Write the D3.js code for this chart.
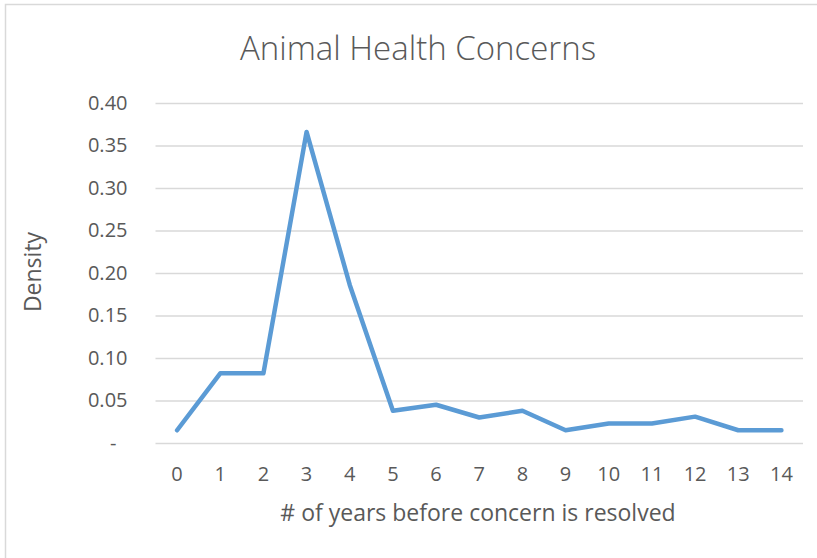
<!DOCTYPE html>
<html>
<head>
<meta charset="utf-8">
<script src="https://cdn.jsdelivr.net/npm/d3@7"></script>
<style>
    body { margin: 0; background: #fff; }
    #chart text { fill: #595959; font-family: "Open Sans", "Liberation Sans", sans-serif; }
</style>
</head>
<body>
<div id="chart"></div>
<script>
// data
const years = ['0', '1', '2', '3', '4', '5', '6', '7', '8', '9', '10', '11', '12', '13', '14'];
const density = [0.015, 0.082, 0.082, 0.366, 0.186, 0.038, 0.045, 0.030, 0.038, 0.015, 0.023, 0.023, 0.031, 0.015, 0.015];
const yTicks = [0, 0.05, 0.10, 0.15, 0.20, 0.25, 0.30, 0.35, 0.40];

class LineChart {
    outerWidth = 817;
    outerHeight = 558;
    marginObj = {
        top: 103, right: 14, bottom: 115, left: 155.5,
    };

    constructor(node) {
        this.container = d3.select(node);
        this.container.selectAll('*').remove();
    }

    getDimensions = () => {
        const {
            top, right, bottom, left,
        } = this.marginObj;
        return {
            width: this.outerWidth - left - right,
            height: this.outerHeight - top - bottom,
            top,
            left,
        };
    };

    render = () => {
        const {
            width, height, top, left,
        } = this.getDimensions();

        const svg = this.container.append('svg')
            .attr('width', this.outerWidth)
            .attr('height', this.outerHeight);

        // chart area border (runs off the right / bottom edge)
        svg.append('rect')
            .attr('x', 5.5)
            .attr('y', 4.5)
            .attr('width', this.outerWidth + 20)
            .attr('height', this.outerHeight + 20)
            .attr('fill', '#fff')
            .attr('stroke', '#d9d9d9')
            .attr('stroke-width', 1.5);

        svg.append('text')
            .attr('x', 418)
            .attr('y', 60)
            .attr('text-anchor', 'middle')
            .style('font-size', '33px')
            .style('font-weight', 300)
            .text('Animal Health Concerns');

        const g = svg.append('g')
            .attr('transform', `translate(${[left, top]})`);

        this.xScale = d3.scaleBand()
            .domain(years)
            .range([0, width]);
        this.yScale = d3.scaleLinear()
            .domain([0, 0.4])
            .range([height, 0]);

        // y axis: gridlines + labels
        const yAxis = d3.axisLeft(this.yScale)
            .tickValues(yTicks)
            .tickSize(-width)
            .tickPadding(28)
            .tickFormat((d) => (d === 0 ? '-' : d3.format('.2f')(d)));
        const yAxisG = g.append('g')
            .attr('class', 'axis y')
            .call(yAxis);
        yAxisG.select('.domain').remove();
        yAxisG.selectAll('line')
            .attr('stroke', '#d9d9d9')
            .attr('stroke-width', 1.5);
        yAxisG.selectAll('text')
            .style('font-size', '20px')
            .attr('dx', (d) => (d === 0 ? -11 : 0));

        // x axis labels only
        const xAxis = d3.axisBottom(this.xScale)
            .tickSize(0)
            .tickPadding(24);
        const xAxisG = g.append('g')
            .attr('class', 'axis x')
            .attr('transform', `translate(0,${height})`)
            .call(xAxis);
        xAxisG.select('.domain').remove();
        xAxisG.selectAll('text')
            .style('font-size', '20px');

        const line = d3.line()
            .x((d, i) => this.xScale(years[i]) + this.xScale.bandwidth() / 2)
            .y((d) => this.yScale(d));

        g.append('path')
            .datum(density)
            .attr('fill', 'none')
            .attr('stroke', '#5b9bd5')
            .attr('stroke-width', 4.5)
            .attr('stroke-linejoin', 'round')
            .attr('stroke-linecap', 'round')
            .attr('d', line);

        svg.append('text')
            .attr('x', 478)
            .attr('y', 521)
            .attr('text-anchor', 'middle')
            .style('font-size', '23px')
            .text('# of years before concern is resolved');

        svg.append('text')
            .attr('transform', 'translate(41,272) rotate(-90)')
            .attr('text-anchor', 'middle')
            .style('font-size', '23px')
            .text('Density');

        return this;
    };
}

new LineChart('#chart').render();
</script>
</body>
</html>
